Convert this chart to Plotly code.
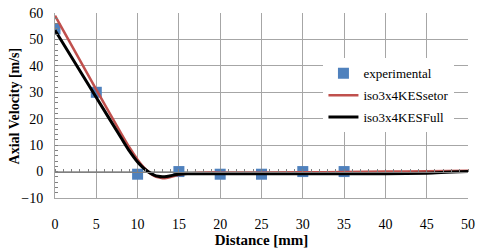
import plotly.graph_objects as go

exp_x = [0, 5, 10, 15, 20, 25, 30, 35]
exp_y = [54, 30, -1, 0, -1, -1, 0, 0]

setor_x = [0, 5, 8, 9, 10, 10.5, 11, 11.5, 12, 12.5, 13, 13.5, 14, 14.5, 15, 16, 17, 18, 20, 25, 30, 35, 40, 45, 50]
setor_y = [59, 31, 14.5, 9.2, 4.5, 2.5, 0.8, -0.6, -1.6, -2.2, -2.5, -2.4, -2.1, -1.6, -1.2, -0.7, -0.5, -0.4, -0.4, -0.4, -0.3, -0.2, 0, 0.1, 0.3]

full_x = [0, 5, 8, 9, 10, 10.5, 11, 11.5, 12, 12.5, 13, 13.5, 14, 14.5, 15, 16, 17, 18, 20, 25, 30, 35, 40, 45, 50]
full_y = [53.5, 28, 12.8, 7.8, 3.6, 2.0, 0.6, -0.5, -1.3, -1.8, -2.0, -1.9, -1.6, -1.2, -1.0, -0.8, -0.8, -0.8, -0.8, -0.8, -0.8, -0.8, -0.8, -0.6, 0]

y_title = "Axial Velocity [m/s]"
x_title = "Distance [mm]"

fig = go.Figure()
fig.add_trace(go.Scatter(x=exp_x, y=exp_y, mode="markers", name="experimental", legendgroup="a",
                         marker=dict(symbol="square", size=11, color="#4f81bd")))
fig.add_trace(go.Scatter(x=setor_x, y=setor_y, mode="lines", name="iso3x4KESsetor", legendgroup="b",
                         line=dict(color="#c0504d", width=2.5, shape="spline", smoothing=0.6)))
fig.add_trace(go.Scatter(x=full_x, y=full_y, mode="lines", name="iso3x4KESFull", legendgroup="c",
                         line=dict(color="#000000", width=3, shape="spline", smoothing=0.6)))
# invisible trace on the helper axis at y=0 (to draw minor ticks)
fig.add_trace(go.Scatter(x=[0, 50], y=[0, 0], xaxis="x2", mode="lines",
                         line=dict(color="rgba(0,0,0,0)"), showlegend=False, hoverinfo="skip"))

serif = "Liberation Serif, Times New Roman, serif"
font = dict(family=serif, size=14, color="#000")
fig.update_layout(
    width=481, height=248,
    margin=dict(l=55, r=13, t=13, b=50, autoexpand=False),
    paper_bgcolor="white", plot_bgcolor="white",
    font=font,
    showlegend=True,
    legend=dict(x=0.65, y=0.755, xanchor="left", yanchor="top",
                bgcolor="white", font=dict(family=serif, size=13, color="#000"),
                itemwidth=30, tracegroupgap=2),
    xaxis=dict(range=[0, 50], dtick=5, showgrid=True, gridcolor="#a6a6a6", gridwidth=1,
               showline=True, linecolor="#a6a6a6", mirror=False, zeroline=False,
               ticks="", tickfont=font, ticklabelstandoff=13, automargin=False,
               title=dict(text="<b>" + x_title + "</b>", font=dict(family=serif, size=15), standoff=0)),
    xaxis2=dict(range=[0, 50], overlaying="x", anchor="free", position=10/70, side="top",
                showline=True, linecolor="#808080", showticklabels=False, showgrid=False,
                zeroline=False, ticks="outside", ticklen=3, tickcolor="#808080", dtick=5,
                automargin=False,
                minor=dict(ticks="outside", dtick=1, ticklen=3, tickcolor="#808080")),
    yaxis=dict(range=[-10, 60], dtick=10, showgrid=True, gridcolor="#a6a6a6", gridwidth=1,
               showline=True, linecolor="#a6a6a6", zeroline=False,
               ticks="inside", ticklen=3, tickcolor="#808080",
               minor=dict(ticks="inside", dtick=2, ticklen=3, tickcolor="#808080"),
               tickfont=font, ticklabelstandoff=8, automargin=False),
)
fig.add_annotation(text="<b>" + y_title + "</b>", xref="paper", yref="paper",
                   x=-0.097, y=0.5, textangle=-90, showarrow=False,
                   xanchor="center", yanchor="middle",
                   font=dict(family=serif, size=14, color="#000"))
fig.write_html("out.html", config={"displayModeBar": False},
               post_script="document.body.style.margin='0';document.body.style.padding='0';")
